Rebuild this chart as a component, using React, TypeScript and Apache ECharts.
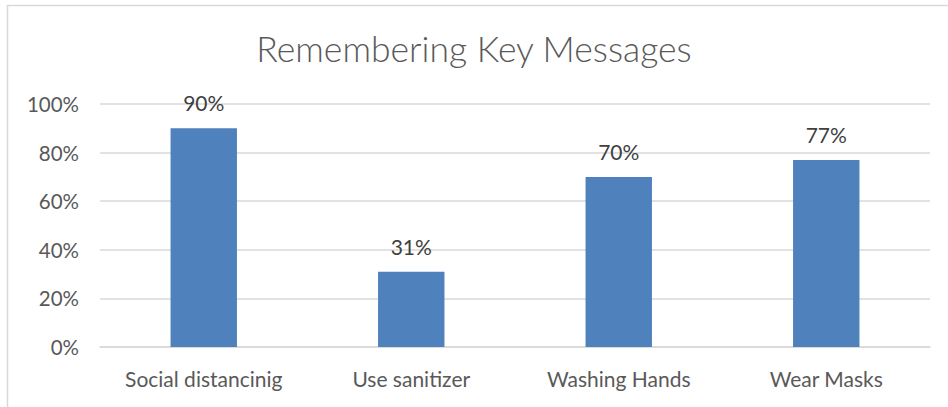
import React, { useEffect, useRef } from "react";
import * as echarts from "echarts";

const categories = ["Social distancinig", "Use sanitizer", "Washing Hands", "Wear Masks"];
const values = [90, 31, 70, 77];
const title = "Remembering Key Messages";

export default function App() {
  const ref = useRef<HTMLDivElement>(null);
  useEffect(() => {
    const chart = echarts.init(ref.current!, null, { renderer: "svg" });
    chart.setOption({
      animation: false,
      backgroundColor: "#ffffff",
      title: {
        text: title,
        left: "center",
        top: 25,
        textStyle: { fontFamily: "Lato", fontWeight: 300, fontSize: 35.5, color: "#595959" },
      },
      graphic: [
        {
          type: "rect",
          shape: { x: 7.5, y: 5.5, width: 1000, height: 500 },
          style: { fill: "none", stroke: "#d9d9d9", lineWidth: 1.5 },
          silent: true,
          z: -1,
        },
      ],
      grid: { left: 100, right: 18, top: 104, bottom: 60 },
      xAxis: {
        type: "category",
        data: categories,
        axisTick: { show: false },
        axisLine: { lineStyle: { color: "#d9d9d9", width: 1.5 } },
        axisLabel: { fontFamily: "Lato", fontSize: 21, color: "#595959", margin: 21 },
      },
      yAxis: {
        type: "value",
        min: 0,
        max: 100,
        interval: 20,
        axisLabel: {
          formatter: "{value}%",
          fontFamily: "Lato",
          fontSize: 20.5,
          color: "#595959",
          margin: 21,
        },
        splitLine: { lineStyle: { color: "#d9d9d9", width: 1.5 } },
        axisLine: { show: false },
        axisTick: { show: false },
      },
      series: [
        {
          type: "bar",
          data: values,
          barWidth: "32%",
          itemStyle: { color: "#4f81bd" },
          label: {
            show: true,
            position: "top",
            distance: 15,
            formatter: "{c}%",
            fontFamily: "Lato",
            fontSize: 21,
            color: "#404040",
          },
        },
      ],
    });
    return () => chart.dispose();
  }, []);
  return (
    <div
      ref={ref}
      style={{ position: "fixed", left: 0, top: 0, width: 948, height: 407 }}
    />
  );
}
